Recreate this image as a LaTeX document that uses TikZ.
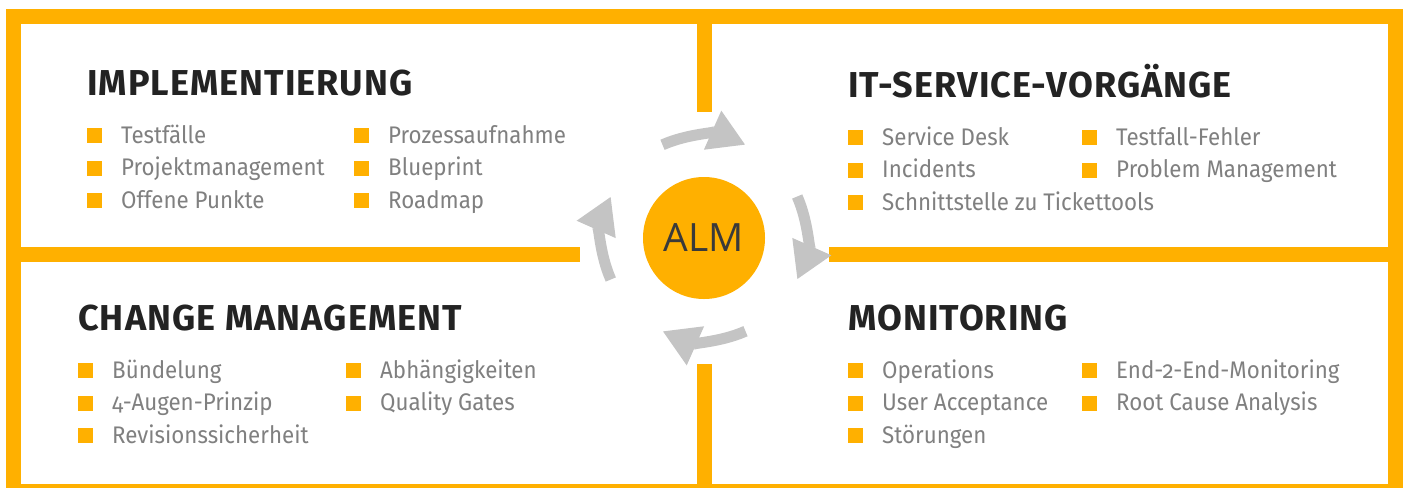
\documentclass[tikz,border=0pt]{standalone}
\usepackage{fontspec}
\setmainfont{Fira Sans}[Numbers=OldStyle]
\newfontfamily\itemfont{Fira Sans}[Numbers=OldStyle, FakeStretch=0.93]
\newfontfamily\titlefont{Fira Sans}[LetterSpace=3]
\newfontfamily\almfont{Open Sans}
\usetikzlibrary{arrows.meta, positioning}
\definecolor{almorange}{RGB}{255,176,0}
\definecolor{almgrey}{RGB}{196,196,196}
\definecolor{itemgrey}{RGB}{128,128,128}
\definecolor{titleblack}{RGB}{35,35,35}
\definecolor{almtext}{RGB}{58,58,58}

\tikzset{
  quadtitle/.style={anchor=base west, inner sep=0, text=titleblack,
    font=\titlefont\fontsize{36}{40}\selectfont\bfseries},
  listitem/.style={anchor=base west, inner sep=0, text=itemgrey,
    font=\itemfont\fontsize{24}{28}\selectfont},
  bullet/.style={anchor=south west, fill=almorange, minimum size=15pt, inner sep=0},
  turnarrow/.style={almgrey, line width=11pt, -{Triangle[length=36pt, width=40pt]}},
}

\begin{document}
\begin{tikzpicture}[x=1pt, y=-1pt]
    \useasboundingbox (0,0) rectangle (1405,488);

    % frame and dividers
    \fill[almorange] (6,9) rectangle (1403,488);
    \fill[white] (21,24) rectangle (1388,484);
    \fill[almorange] (697,24) rectangle (712,112);
    \fill[almorange] (697,364) rectangle (712,484);
    \fill[almorange] (21,247) rectangle (580,262);
    \fill[almorange] (829,247) rectangle (1388,262);

    % centre
    \node[circle, fill=almorange, minimum size=122pt, inner sep=0,
          font=\almfont\fontsize{39}{40}\selectfont, text=almtext] (alm) at (704,238) {ALM};

    \draw[turnarrow] ([shift={(-114:102)}]alm.center) arc[start angle=-114, end angle=-66, radius=102];
    \draw[turnarrow] ([shift={(-24:102)}]alm.center) arc[start angle=-24, end angle=24, radius=102];
    \draw[turnarrow] ([shift={(66:102)}]alm.center) arc[start angle=66, end angle=114, radius=102];
    \draw[turnarrow] ([shift={(156:102)}]alm.center) arc[start angle=156, end angle=204, radius=102];

    % implementierung
    \node[quadtitle] (impl) at (87,95) {IMPLEMENTIERUNG};
    \foreach \col/\row/\txt [count=\n] in {0/0/Testfälle, 0/1/Projektmanagement, 0/2/Offene Punkte,
                                         1/0/Prozessaufnahme, 1/1/Blueprint, 1/2/Roadmap} {
        \node[bullet] (impl-b\n) at (87+267*\col,143.5+32.5*\row) {};
        \node[listitem] (impl-\n) at (121+267*\col,143+32.5*\row) {\txt};
    }

    % it-service
    \node[quadtitle] (itsm) at (848,97) {IT-SERVICE-VORGÄNGE};
    \foreach \col/\row/\txt [count=\n] in {0/0/Service Desk, 0/1/Incidents, 0/2/Schnittstelle zu Tickettools,
                                         1/0/Testfall-Fehler, 1/1/Problem Management} {
        \node[bullet] (itsm-b\n) at (848+234*\col,145.5+32.5*\row) {};
        \node[listitem] (itsm-\n) at (882+234*\col,145+32.5*\row) {\txt};
    }

    % change management
    \node[quadtitle] (chg) at (78,330) {CHANGE MANAGEMENT};
    \foreach \col/\row/\txt [count=\n] in {0/0/Bündelung, 0/1/4-Augen-Prinzip, 0/2/Revisionssicherheit,
                                         1/0/Abhängigkeiten, 1/1/Quality Gates} {
        \node[bullet] (chg-b\n) at (78+268*\col,378.5+32.5*\row) {};
        \node[listitem] (chg-\n) at (112+268*\col,378+32.5*\row) {\txt};
    }

    % monitoring
    \node[quadtitle] (mon) at (848,330) {MONITORING};
    \foreach \col/\row/\txt [count=\n] in {0/0/Operations, 0/1/User Acceptance, 0/2/Störungen,
                                         1/0/End-2-End-Monitoring, 1/1/Root Cause Analysis} {
        \node[bullet] (mon-b\n) at (848+234*\col,378.5+32.5*\row) {};
        \node[listitem] (mon-\n) at (882+234*\col,378+32.5*\row) {\txt};
    }
\end{tikzpicture}
\end{document}
